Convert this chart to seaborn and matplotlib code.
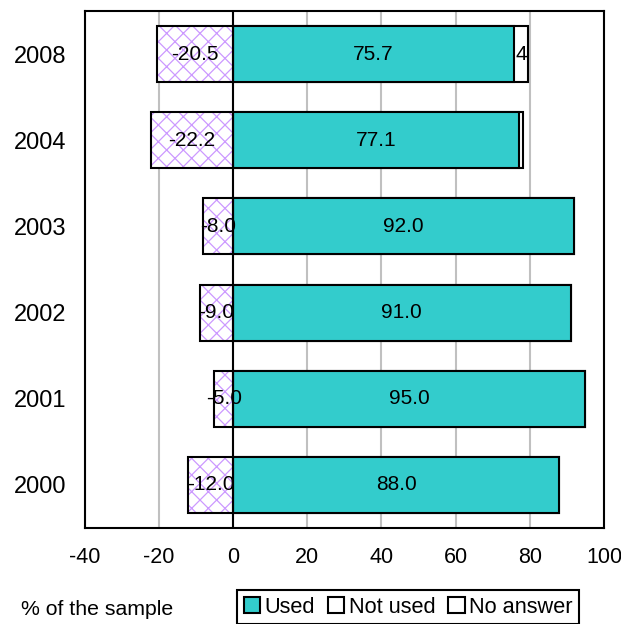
import matplotlib
matplotlib.use("Agg")
import matplotlib.pyplot as plt
import seaborn as sns
import pandas as pd
from matplotlib.patches import Patch

years = ["2008", "2004", "2003", "2002", "2001", "2000"]
used = [75.7, 77.1, 92.0, 91.0, 95.0, 88.0]
not_used = [-20.5, -22.2, -8.0, -9.0, -5.0, -12.0]
no_answer = [3.8, 1.0, 0.0, 0.0, 0.0, 0.0]
no_answer_labels = ["4", "", "", "", "", ""]
xticks = [-40, -20, 0, 20, 40, 60, 80, 100]

TEAL = "#33CCCC"
VIOLET = "#CC99FF"
FS = 15

sns.set_style("white")
plt.rcParams["font.family"] = ["Liberation Sans", "DejaVu Sans"]
plt.rcParams["hatch.linewidth"] = 0.9
plt.rcParams["text.color"] = "black"
plt.rcParams["xtick.color"] = "black"
plt.rcParams["ytick.color"] = "black"
plt.rcParams["xtick.labelcolor"] = "black"
plt.rcParams["ytick.labelcolor"] = "black"

df = pd.DataFrame({"year": years, "used": used, "not_used": not_used,
                   "total": [u + n for u, n in zip(used, no_answer)]})

fig = plt.figure(figsize=(6.21, 6.24), dpi=100)
ax = fig.add_axes([84.5 / 621, 1 - 528 / 624, (604 - 84.5) / 621, (528 - 11) / 624])

W = 0.65
# No answer (drawn as total extent, then covered by used)
sns.barplot(data=df, y="year", x="total", order=years, orient="h", ax=ax,
            color="white", edgecolor="black", linewidth=1.5, width=W,
            saturation=1, errorbar=None, zorder=2)
# Used
sns.barplot(data=df, y="year", x="used", order=years, orient="h", ax=ax,
            color=TEAL, edgecolor="black", linewidth=1.5, width=W,
            saturation=1, errorbar=None, zorder=3)
# Not used hatch
sns.barplot(data=df, y="year", x="not_used", order=years, orient="h", ax=ax,
            color="white", edgecolor=VIOLET, linewidth=0, width=W,
            saturation=1, errorbar=None, zorder=3, hatch="xx")
# Not used outline
sns.barplot(data=df, y="year", x="not_used", order=years, orient="h", ax=ax,
            fill=False, edgecolor="black", linewidth=1.5, width=W,
            saturation=1, errorbar=None, zorder=4)

for i, y in enumerate(years):
    ax.text(used[i] / 2, i, f"{used[i]:.1f}", ha="center", va="center",
            fontsize=FS, zorder=6)
    ax.text(not_used[i] / 2, i, f"{not_used[i]:.1f}", ha="center", va="center",
            fontsize=FS, zorder=6)
    if no_answer_labels[i]:
        ax.text(used[i] + no_answer[i] / 2, i, no_answer_labels[i], ha="center",
                va="center", fontsize=FS, zorder=6)

ax.axvline(0, color="black", lw=1.5, zorder=5)
ax.set_xlim(-40, 100)
ax.set_ylim(5.5, -0.5)
ax.set_xticks(xticks)
ax.set_xticklabels([str(t) for t in xticks], fontsize=15.5)
ax.tick_params(axis="y", labelsize=17, length=0, pad=13)
ax.tick_params(axis="x", length=6, width=1.3, direction="out", pad=8)
ax.xaxis.grid(True, color="#C0C0C0", lw=1.5)
ax.yaxis.grid(False)
ax.set_axisbelow(True)
ax.set_xlabel("")
ax.set_ylabel("")
for s in ax.spines.values():
    s.set_visible(True)
    s.set_color("black")
    s.set_linewidth(1.5)

fig.text(21 / 621, 1 - 615 / 624, "% of the sample", fontsize=15.3, va="baseline")

handles = [Patch(facecolor=TEAL, edgecolor="black", lw=1.5),
           Patch(facecolor="white", edgecolor="black", lw=1.5),
           Patch(facecolor="white", edgecolor="black", lw=1.5)]
leg = fig.legend(handles, ["Used", "Not used", "No answer"], loc="upper left",
                 bbox_to_anchor=(237 / 621, 1 - 590 / 624), ncol=3, fontsize=15.7,
                 frameon=True, fancybox=False, edgecolor="black", framealpha=1,
                 handlelength=0.75, handleheight=0.75, handletextpad=0.2,
                 columnspacing=0.6, borderpad=0.3, borderaxespad=0)
leg.get_frame().set_linewidth(1.5)

fig.savefig("out.png", dpi=100)
